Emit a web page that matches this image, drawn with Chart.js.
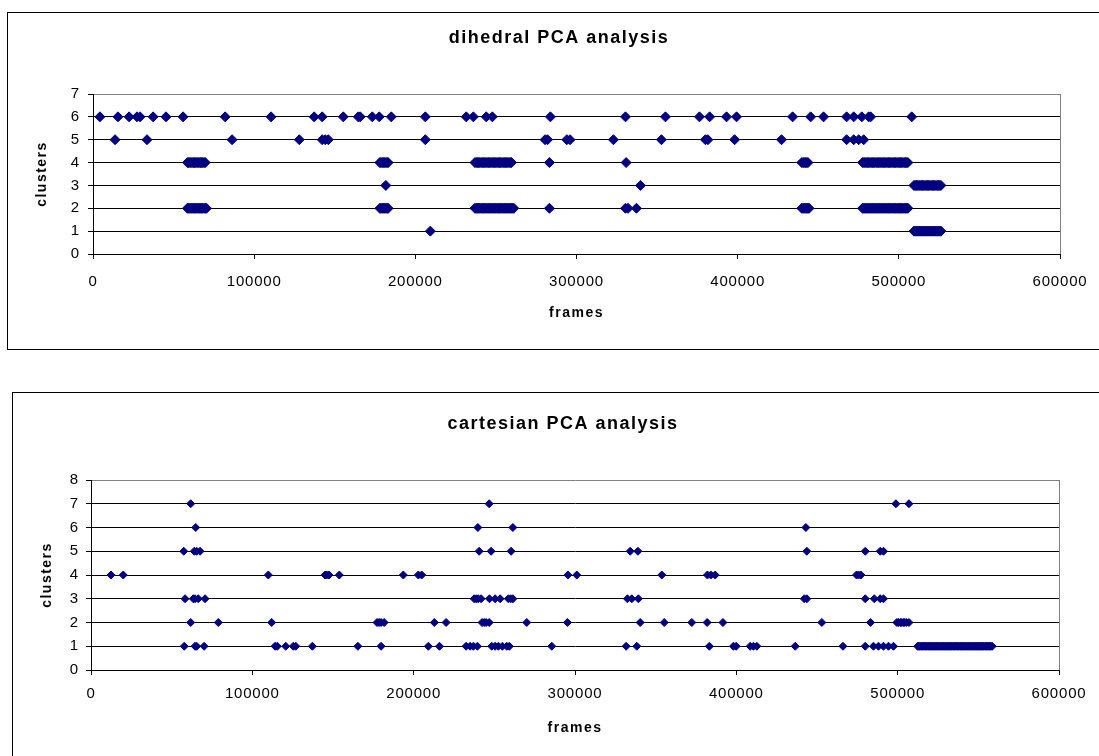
<!DOCTYPE html>
<html>
<head>
<meta charset="utf-8">
<title>PCA cluster analysis</title>
<script src="https://cdn.jsdelivr.net/npm/chart.js@4.4.1/dist/chart.umd.min.js"></script>
<style>
    body { margin: 0; background: #fff; overflow: hidden; }
    .box { position: absolute; border: 1px solid #000; background: #fff; }
    #box1 { left: 7px; top: 12px; width: 1102px; height: 336px; }
    #box2 { left: 12px; top: 392px; width: 1100px; height: 363px; }
    canvas { display: block; }
</style>
</head>
<body>
<div class="box" id="box1"><canvas id="dihedralChart" width="1102" height="336"></canvas></div>
<div class="box" id="box2"><canvas id="cartesianChart" width="1100" height="363"></canvas></div>
<script>
// x axis
const frameTicks = [0, 100000, 200000, 300000, 400000, 500000, 600000];

// dihedral PCA: frames assigned to each cluster
const dihedral6 = [4300, 15500, 22400, 27300, 29200, 37300, 45300, 55900, 82000, 110500, 137200, 142200, 155300, 164600, 165800, 173300, 177600, 185100, 206200, 231600, 236000, 244000, 247800, 283800, 330400, 355200, 376300, 382600, 393100, 399300, 434100, 445300, 453300, 467600, 472000, 477000, 481300, 482500, 508000];
const dihedral5 = [13700, 33500, 86300, 128000, 142200, 144100, 146000, 206200, 280500, 282000, 294000, 296000, 322900, 352700, 380000, 381500, 398100, 427200, 467600, 472000, 475100, 478200];
const dihedral4 = [58600, 59300, 60100, 60800, 61500, 62300, 63000, 63700, 64500, 65200, 65900, 66700, 67400, 68100, 68900, 69600,
    178000, 178700, 179500, 180300, 181000, 181800, 182500, 183100,
    237000, 237800, 238500, 239300, 240000, 240800, 241600, 242300, 243100, 243800, 244600, 245400, 246100, 246900, 247600, 248400, 249100, 249900, 250700, 251400, 252200, 252900, 253700, 254500, 255200, 256000, 256700, 257500, 258200, 259000, 259700,
    283200, 330800, 439800, 440600, 441300, 442100, 442900, 443600,
    477500, 478300, 479000, 479800, 480600, 481300, 482100, 482800, 483600, 484400, 485100, 485900, 486600, 487400, 488200, 488900, 489700, 490400, 491200, 492000, 492700, 493500, 494200, 495000, 495800, 496500, 497300, 498000, 498800, 499600, 500300, 501100, 501800, 502600, 503400, 504100, 504900, 505600];
const dihedral3 = [181700, 339700,
    509400, 510200, 510900, 511700, 512500, 513200, 514000, 514700, 515500, 516300, 517000, 517800, 518500, 519300, 520100, 520800, 521600, 522300, 523100, 523900, 524600, 525400, 526100];
const dihedral2 = [58600, 59300, 60100, 60800, 61500, 62300, 63000, 63700, 64500, 65200, 65900, 66700, 67400, 68100, 68900, 69600, 70400,
    178000, 178700, 179500, 180300, 181000, 181800, 182500, 183100,
    237000, 237800, 238500, 239300, 240000, 240800, 241600, 242300, 243100, 243800, 244600, 245400, 246100, 246900, 247600, 248400, 249100, 249900, 250700, 251400, 252200, 252900, 253700, 254500, 255200, 256000, 256700, 257500, 258200, 259000, 259700, 260500, 261100,
    283200, 330400, 332000, 337200, 439800, 440600, 441300, 442100, 442900, 443600, 444300,
    477500, 478300, 479000, 479800, 480600, 481300, 482100, 482800, 483600, 484400, 485100, 485900, 486600, 487400, 488200, 488900, 489700, 490400, 491200, 492000, 492700, 493500, 494200, 495000, 495800, 496500, 497300, 498000, 498800, 499600, 500300, 501100, 501800, 502600, 503400, 504100, 504900, 505600];
const dihedral1 = [209300,
    509400, 510200, 510900, 511700, 512500, 513200, 514000, 514700, 515500, 516300, 517000, 517800, 518500, 519300, 520100, 520800, 521600, 522300, 523100, 523900, 524600, 525400, 526100];

// cartesian PCA: frames assigned to each cluster
const cartesian7 = [61800, 246800, 498900, 507000];
const cartesian6 = [64900, 239800, 261500, 443100];
const cartesian5 = [57500, 64000, 65500, 67600, 240600, 248000, 260400, 334200, 339000, 443700, 479900, 489200, 491200];
const cartesian4 = [12400, 20000, 109900, 145100, 146100, 147500, 153900, 193600, 202900, 205000, 295600, 301100, 353800, 382100, 384200, 386900, 474500, 475800, 477200];
const cartesian3 = [58300, 63400, 64500, 66500, 70700, 237500, 238700, 240000, 241800, 247000, 250500, 253600, 258700, 260200, 261500, 332500, 335200, 339300, 442100, 443700, 479900, 485500, 489200, 491200];
const cartesian2 = [61800, 78900, 112000, 177300, 178600, 179800, 181700, 212800, 220100, 242400, 243700, 244900, 246800, 270100, 295300, 340400, 355300, 372400, 381900, 391700, 453000, 483200, 499500, 500500, 501600, 502500, 503500, 504400, 505500, 507000];
const cartesian1 = [57800, 64500, 65500, 70100, 114100, 115500, 120700, 125400, 126900, 137200, 165400, 179800, 209100, 216000, 232500, 235000, 237000, 239500, 248400, 250500, 252500, 255000, 257700, 259300, 285600, 331700, 338300, 383300, 398200, 399900, 408600, 410600, 412700, 436500, 466100, 479900, 485000, 488100, 491200, 494300, 497400,
    512400, 513100, 513800, 514600, 515300, 516000, 516800, 517500, 518200, 519000, 519700, 520400, 521200, 521900, 522600, 523400, 524100, 524800, 525600, 526300, 527000, 527800, 528500, 529200, 530000, 530700, 531400, 532200, 532900, 533600, 534400, 535100, 535800, 536600, 537300, 538000, 538800, 539500, 540200, 541000, 541700, 542400, 543200, 543900, 544600, 545400, 546100, 546800, 547600, 548300, 549000, 549800, 550500, 551200, 552000, 552700, 553400, 554200, 554900, 555600, 556400, 557100, 557800, 558600];

Chart.defaults.font.family = '"Liberation Sans", Arial, sans-serif';
Chart.defaults.color = '#000';

// titles are drawn spaced out a bit, tick labels less so
const letterSpacing = {
    id: 'letterSpacing',
    beforeDraw(chart) { chart.ctx.letterSpacing = '1.5px'; },
    beforeDatasetsDraw(chart) { chart.ctx.letterSpacing = '0.8px'; }
};

function toPoints(rows) {
    let points = [];
    rows.forEach(function (row) {
        row.frames.forEach(function (f) {
            points.push({ x: f, y: row.cluster });
        });
    });
    return points;
}

function buildChart(id, title, rows, yMax, lay) {
    let ctx = document.getElementById(id).getContext('2d');
    new Chart(ctx, {
        type: 'scatter',
        data: {
            datasets: [{
                data: toPoints(rows),
                pointStyle: 'rectRot',
                pointRadius: lay.radius,
                pointHoverRadius: lay.radius,
                backgroundColor: '#000080',
                borderColor: '#000080',
                borderWidth: 1
            }]
        },
        options: {
            responsive: false,
            animation: false,
            devicePixelRatio: 1,
            layout: { padding: 0 },
            plugins: {
                legend: { display: false },
                tooltip: { enabled: false },
                title: {
                    display: true,
                    text: title,
                    color: '#000',
                    font: { size: 18, weight: 'bold', lineHeight: 1.2 },
                    padding: { top: lay.titleTop, bottom: lay.titleBottom }
                }
            },
            scales: {
                x: {
                    type: 'linear',
                    min: frameTicks[0],
                    max: frameTicks[frameTicks.length - 1],
                    afterBuildTicks: function (s) { s.ticks = frameTicks.map(v => ({ value: v })); },
                    ticks: {
                        callback: v => String(v),
                        padding: lay.xTickPad,
                        font: { size: 15 },
                        maxRotation: 0,
                        autoSkip: false,
                        z: 1
                    },
                    grid: {
                        color: c => (c.tick && c.tick.value === 600000) ? '#808080' : 'rgba(0,0,0,0)',
                        tickColor: '#000',
                        tickLength: 5
                    },
                    border: { color: '#000', z: 1 },
                    title: {
                        display: true,
                        text: 'frames',
                        font: { size: 14, weight: 'bold', lineHeight: 1.2 },
                        padding: { top: 0, bottom: lay.xTitlePad }
                    },
                    afterFit: function (s) {
                        s.height = lay.xHeight;
                        s.paddingRight = lay.right;
                    }
                },
                y: {
                    min: 0,
                    max: yMax,
                    ticks: {
                        stepSize: 1,
                        padding: lay.yTickPad,
                        font: { size: 15 },
                        z: 1
                    },
                    grid: {
                        color: c => (c.tick && c.tick.value === yMax) ? '#808080' : '#000',
                        tickColor: '#000',
                        tickLength: 5
                    },
                    border: { color: '#000', z: 1 },
                    title: {
                        display: true,
                        text: 'clusters',
                        font: { size: 14, weight: 'bold', lineHeight: 1.2 },
                        padding: { top: lay.yTitlePad, bottom: 0 }
                    },
                    afterFit: function (s) { s.width = lay.yWidth; }
                }
            }
        },
        plugins: [letterSpacing]
    });
}

buildChart('dihedralChart', 'dihedral PCA analysis', [
    { cluster: 1, frames: dihedral1 },
    { cluster: 2, frames: dihedral2 },
    { cluster: 3, frames: dihedral3 },
    { cluster: 4, frames: dihedral4 },
    { cluster: 5, frames: dihedral5 },
    { cluster: 6, frames: dihedral6 }
], 7, {
    radius: 5, titleTop: 14, titleBottom: 45.4, xTickPad: 14, xTitlePad: 27.6,
    xHeight: 95, right: 50, yTickPad: 8, yTitlePad: 25.6, yWidth: 85
});

buildChart('cartesianChart', 'cartesian PCA analysis', [
    { cluster: 1, frames: cartesian1 },
    { cluster: 2, frames: cartesian2 },
    { cluster: 3, frames: cartesian3 },
    { cluster: 4, frames: cartesian4 },
    { cluster: 5, frames: cartesian5 },
    { cluster: 6, frames: cartesian6 },
    { cluster: 7, frames: cartesian7 }
], 8, {
    radius: 4, titleTop: 20.2, titleBottom: 45.2, xTickPad: 10, xTitlePad: 19.6,
    xHeight: 86, right: 54, yTickPad: 7, yTitlePad: 25.6, yWidth: 78
});
</script>
</body>
</html>
